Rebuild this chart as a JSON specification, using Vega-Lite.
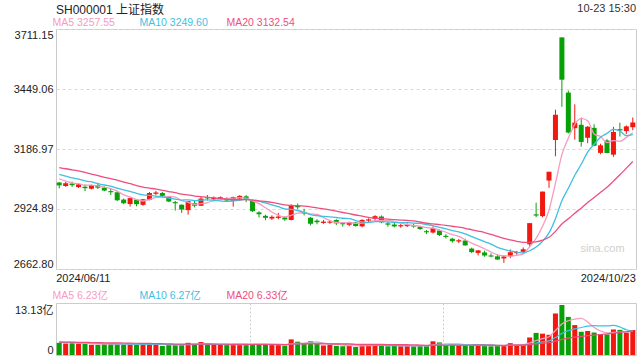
{
  "$schema": "https://vega.github.io/schema/vega-lite/v6.json",
  "background": "white",
  "padding": {"left": 12, "top": 2, "right": 5, "bottom": 0},
  "bounds": "flush",
  "spacing": 34,
  "title": {"text": "10-23 15:30", "anchor": "end", "frame": "group", "fontSize": 11, "fontWeight": "normal", "color": "#333333", "offset": -10},
  "config": {
    "font": "Liberation Sans, Noto Sans CJK SC, sans-serif",
    "view": {"stroke": "#cccccc", "strokeWidth": 1},
    "axis": {"labelFont": "Liberation Sans, Noto Sans CJK SC, sans-serif", "labelFontSize": 11, "labelColor": "#222222", "grid": false, "domain": false, "ticks": false, "title": null},
    "legend": {"labelFont": "Liberation Sans, Noto Sans CJK SC, sans-serif"},
    "title": {"font": "Liberation Sans, Noto Sans CJK SC, sans-serif", "fontWeight": "normal"}
  },
  "datasets": {
    "k": [
      {"d":"2024/06/11","o":3040.7,"h":3041.5,"l":3014.9,"c":3028.05,"v":3.2,"m5":3056.94,"m10":3076.23,"m20":3106.07,"v5":3.36,"v10":3.38,"v20":3.39},
      {"d":"2024/06/12","o":3025.1,"h":3043.0,"l":3021.5,"c":3037.47,"v":3.0,"m5":3046.20,"m10":3069.02,"m20":3100.65,"v5":3.28,"v10":3.34,"v20":3.37},
      {"d":"2024/06/13","o":3036.0,"h":3044.5,"l":3021.2,"c":3028.92,"v":3.1,"m5":3038.90,"m10":3060.81,"m20":3096.10,"v5":3.22,"v10":3.31,"v20":3.36},
      {"d":"2024/06/14","o":3020.5,"h":3036.5,"l":3016.4,"c":3032.63,"v":3.0,"m5":3035.67,"m10":3054.90,"m20":3091.62,"v5":3.14,"v10":3.27,"v20":3.34},
      {"d":"2024/06/17","o":3022.0,"h":3031.9,"l":3003.0,"c":3015.89,"v":3.0,"m5":3028.59,"m10":3047.81,"m20":3084.71,"v5":3.06,"v10":3.23,"v20":3.32},
      {"d":"2024/06/18","o":3013.3,"h":3031.0,"l":3010.5,"c":3030.25,"v":2.7,"m5":3029.03,"m10":3042.99,"m20":3077.66,"v5":2.96,"v10":3.16,"v20":3.28},
      {"d":"2024/06/19","o":3028.7,"h":3039.4,"l":3012.4,"c":3018.05,"v":2.7,"m5":3025.15,"m10":3035.67,"m20":3070.67,"v5":2.90,"v10":3.09,"v20":3.25},
      {"d":"2024/06/20","o":3018.2,"h":3022.7,"l":3002.5,"c":3005.44,"v":2.9,"m5":3020.45,"m10":3029.68,"m20":3063.01,"v5":2.86,"v10":3.04,"v20":3.22},
      {"d":"2024/06/21","o":3003.0,"h":3014.6,"l":2985.6,"c":2998.14,"v":3.0,"m5":3013.55,"m10":3024.61,"m20":3057.10,"v5":2.86,"v10":3.00,"v20":3.20},
      {"d":"2024/06/24","o":2998.0,"h":3001.2,"l":2959.6,"c":2963.10,"v":2.9,"m5":3003.00,"m10":3015.79,"m20":3050.81,"v5":2.84,"v10":2.95,"v20":3.18},
      {"d":"2024/06/25","o":2966.0,"h":2970.5,"l":2946.2,"c":2950.00,"v":2.8,"m5":2986.95,"m10":3007.99,"m20":3042.11,"v5":2.86,"v10":2.91,"v20":3.15},
      {"d":"2024/06/26","o":2946.5,"h":2974.0,"l":2935.5,"c":2972.53,"v":2.8,"m5":2977.84,"m10":3001.50,"m20":3035.26,"v5":2.88,"v10":2.89,"v20":3.12},
      {"d":"2024/06/27","o":2966.0,"h":2968.0,"l":2936.5,"c":2945.85,"v":2.7,"m5":2965.92,"m10":2993.19,"m20":3027.00,"v5":2.84,"v10":2.85,"v20":3.08},
      {"d":"2024/06/28","o":2943.0,"h":2969.0,"l":2939.0,"c":2967.40,"v":2.9,"m5":2959.78,"m10":2986.66,"m20":3020.78,"v5":2.82,"v10":2.84,"v20":3.06},
      {"d":"2024/07/01","o":2965.0,"h":2999.0,"l":2963.0,"c":2994.73,"v":2.9,"m5":2966.10,"m10":2984.55,"m20":3016.18,"v5":2.82,"v10":2.83,"v20":3.03},
      {"d":"2024/07/02","o":2991.4,"h":3004.0,"l":2985.0,"c":2997.01,"v":2.9,"m5":2975.50,"m10":2981.22,"m20":3012.11,"v5":2.84,"v10":2.85,"v20":3.01},
      {"d":"2024/07/03","o":2995.0,"h":2999.5,"l":2975.0,"c":2982.38,"v":2.4,"m5":2977.47,"m10":2977.66,"m20":3006.67,"v5":2.76,"v10":2.82,"v20":2.96},
      {"d":"2024/07/04","o":2978.0,"h":2980.0,"l":2955.5,"c":2957.57,"v":2.6,"m5":2979.82,"m10":2972.87,"m20":3001.27,"v5":2.74,"v10":2.79,"v20":2.92},
      {"d":"2024/07/05","o":2955.0,"h":2960.0,"l":2918.0,"c":2949.93,"v":2.6,"m5":2976.32,"m10":2968.05,"m20":2996.33,"v5":2.68,"v10":2.75,"v20":2.88},
      {"d":"2024/07/08","o":2943.0,"h":2945.0,"l":2908.0,"c":2922.45,"v":2.8,"m5":2961.87,"m10":2963.98,"m20":2989.89,"v5":2.66,"v10":2.74,"v20":2.85},
      {"d":"2024/07/09","o":2920.0,"h":2960.5,"l":2900.0,"c":2959.37,"v":3.2,"m5":2954.34,"m10":2964.92,"m20":2986.46,"v5":2.72,"v10":2.78,"v20":2.85},
      {"d":"2024/07/10","o":2951.0,"h":2960.0,"l":2932.0,"c":2939.36,"v":2.7,"m5":2945.74,"m10":2961.60,"m20":2981.55,"v5":2.78,"v10":2.77,"v20":2.83},
      {"d":"2024/07/11","o":2939.0,"h":2978.0,"l":2938.0,"c":2970.39,"v":3.4,"m5":2948.30,"m10":2964.06,"m20":2978.62,"v5":2.94,"v10":2.84,"v20":2.85},
      {"d":"2024/07/12","o":2976.0,"h":2986.0,"l":2962.0,"c":2971.30,"v":2.8,"m5":2952.57,"m10":2964.45,"m20":2975.56,"v5":2.98,"v10":2.83,"v20":2.84},
      {"d":"2024/07/15","o":2967.0,"h":2980.0,"l":2958.0,"c":2974.01,"v":2.7,"m5":2962.89,"m10":2962.38,"m20":2973.46,"v5":2.96,"v10":2.81,"v20":2.82},
      {"d":"2024/07/16","o":2971.0,"h":2980.0,"l":2964.0,"c":2976.30,"v":2.7,"m5":2966.27,"m10":2960.31,"m20":2970.77,"v5":2.86,"v10":2.79,"v20":2.82},
      {"d":"2024/07/17","o":2972.0,"h":2976.0,"l":2957.0,"c":2962.19,"v":2.6,"m5":2970.84,"m10":2958.29,"m20":2967.97,"v5":2.84,"v10":2.81,"v20":2.82},
      {"d":"2024/07/18","o":2960.0,"h":2979.0,"l":2935.0,"c":2977.13,"v":2.8,"m5":2972.19,"m10":2960.24,"m20":2966.56,"v5":2.72,"v10":2.83,"v20":2.81},
      {"d":"2024/07/19","o":2970.0,"h":2985.0,"l":2960.0,"c":2982.31,"v":2.8,"m5":2974.39,"m10":2963.48,"m20":2965.77,"v5":2.72,"v10":2.85,"v20":2.80},
      {"d":"2024/07/22","o":2980.0,"h":2986.0,"l":2955.0,"c":2964.22,"v":2.7,"m5":2972.43,"m10":2967.66,"m20":2965.82,"v5":2.72,"v10":2.84,"v20":2.79},
      {"d":"2024/07/23","o":2962.0,"h":2966.0,"l":2912.0,"c":2915.37,"v":2.9,"m5":2960.24,"m10":2963.26,"m20":2964.09,"v5":2.76,"v10":2.81,"v20":2.80},
      {"d":"2024/07/24","o":2910.0,"h":2915.0,"l":2888.0,"c":2901.95,"v":2.8,"m5":2948.20,"m10":2959.52,"m20":2960.56,"v5":2.80,"v10":2.82,"v20":2.80},
      {"d":"2024/07/25","o":2895.0,"h":2900.0,"l":2876.0,"c":2886.43,"v":2.9,"m5":2930.06,"m10":2951.12,"m20":2957.59,"v5":2.82,"v10":2.77,"v20":2.81},
      {"d":"2024/07/26","o":2883.0,"h":2897.0,"l":2877.0,"c":2890.90,"v":2.6,"m5":2911.77,"m10":2943.08,"m20":2953.76,"v5":2.78,"v10":2.75,"v20":2.79},
      {"d":"2024/07/29","o":2886.0,"h":2908.0,"l":2880.0,"c":2891.85,"v":2.6,"m5":2897.30,"m10":2934.86,"m20":2948.62,"v5":2.76,"v10":2.74,"v20":2.78},
      {"d":"2024/07/30","o":2888.0,"h":2892.0,"l":2873.0,"c":2879.30,"v":2.5,"m5":2890.09,"m10":2925.16,"m20":2942.74,"v5":2.68,"v10":2.72,"v20":2.76},
      {"d":"2024/07/31","o":2877.0,"h":2945.0,"l":2875.0,"c":2938.75,"v":4.1,"m5":2897.45,"m10":2922.82,"m20":2940.55,"v5":2.94,"v10":2.87,"v20":2.84},
      {"d":"2024/08/01","o":2941.0,"h":2949.0,"l":2925.0,"c":2932.39,"v":3.5,"m5":2906.64,"m10":2918.35,"m20":2939.29,"v5":3.06,"v10":2.94,"v20":2.89},
      {"d":"2024/08/02","o":2911.0,"h":2926.0,"l":2897.0,"c":2905.34,"v":3.0,"m5":2909.53,"m10":2910.65,"m20":2937.07,"v5":3.14,"v10":2.96,"v20":2.91},
      {"d":"2024/08/05","o":2887.0,"h":2890.0,"l":2853.0,"c":2860.70,"v":3.6,"m5":2903.30,"m10":2900.30,"m20":2933.98,"v5":3.34,"v10":3.05,"v20":2.95},
      {"d":"2024/08/06","o":2874.0,"h":2880.0,"l":2858.0,"c":2867.28,"v":2.9,"m5":2900.89,"m10":2895.49,"m20":2929.37,"v5":3.42,"v10":3.05,"v20":2.93},
      {"d":"2024/08/07","o":2864.0,"h":2877.0,"l":2860.0,"c":2869.83,"v":2.5,"m5":2887.11,"m10":2892.28,"m20":2925.90,"v5":3.10,"v10":3.02,"v20":2.92},
      {"d":"2024/08/08","o":2865.0,"h":2878.0,"l":2860.0,"c":2869.90,"v":2.7,"m5":2874.61,"m10":2890.62,"m20":2920.87,"v5":2.94,"v10":3.00,"v20":2.89},
      {"d":"2024/08/09","o":2877.0,"h":2880.0,"l":2855.0,"c":2862.19,"v":2.4,"m5":2865.98,"m10":2887.75,"m20":2915.42,"v5":2.82,"v10":2.98,"v20":2.87},
      {"d":"2024/08/12","o":2863.0,"h":2868.0,"l":2848.0,"c":2858.20,"v":2.3,"m5":2865.48,"m10":2884.39,"m20":2909.63,"v5":2.56,"v10":2.95,"v20":2.85},
      {"d":"2024/08/13","o":2856.0,"h":2870.0,"l":2850.0,"c":2867.95,"v":2.5,"m5":2865.61,"m10":2883.25,"m20":2904.21,"v5":2.48,"v10":2.95,"v20":2.84},
      {"d":"2024/08/14","o":2866.0,"h":2868.0,"l":2848.0,"c":2850.65,"v":2.1,"m5":2861.78,"m10":2874.44,"m20":2898.63,"v5":2.40,"v10":2.75,"v20":2.81},
      {"d":"2024/08/15","o":2849.0,"h":2880.0,"l":2845.0,"c":2877.36,"v":2.7,"m5":2863.27,"m10":2868.94,"m20":2893.64,"v5":2.40,"v10":2.67,"v20":2.81},
      {"d":"2024/08/16","o":2874.0,"h":2884.0,"l":2866.0,"c":2879.43,"v":2.6,"m5":2866.72,"m10":2866.35,"m20":2888.50,"v5":2.44,"v10":2.63,"v20":2.80},
      {"d":"2024/08/19","o":2882.0,"h":2898.0,"l":2870.0,"c":2893.67,"v":2.6,"m5":2873.81,"m10":2869.65,"m20":2884.97,"v5":2.50,"v10":2.53,"v20":2.79},
      {"d":"2024/08/20","o":2892.0,"h":2897.0,"l":2863.0,"c":2866.66,"v":2.5,"m5":2873.55,"m10":2869.58,"m20":2882.54,"v5":2.50,"v10":2.49,"v20":2.77},
      {"d":"2024/08/21","o":2862.0,"h":2868.0,"l":2848.0,"c":2856.58,"v":2.3,"m5":2874.74,"m10":2868.26,"m20":2880.27,"v5":2.54,"v10":2.47,"v20":2.75},
      {"d":"2024/08/22","o":2857.0,"h":2865.0,"l":2845.0,"c":2848.77,"v":2.5,"m5":2869.02,"m10":2866.15,"m20":2878.38,"v5":2.50,"v10":2.45,"v20":2.73},
      {"d":"2024/08/23","o":2849.0,"h":2860.0,"l":2843.0,"c":2854.37,"v":2.3,"m5":2864.01,"m10":2865.36,"m20":2876.56,"v5":2.44,"v10":2.44,"v20":2.71},
      {"d":"2024/08/26","o":2850.0,"h":2862.0,"l":2846.0,"c":2855.52,"v":2.4,"m5":2856.38,"m10":2865.10,"m20":2874.74,"v5":2.40,"v10":2.45,"v20":2.70},
      {"d":"2024/08/27","o":2853.0,"h":2860.0,"l":2843.0,"c":2848.32,"v":2.3,"m5":2852.71,"m10":2863.13,"m20":2873.19,"v5":2.36,"v10":2.43,"v20":2.69},
      {"d":"2024/08/28","o":2847.0,"h":2852.0,"l":2833.0,"c":2837.43,"v":2.5,"m5":2848.88,"m10":2861.81,"m20":2868.13,"v5":2.40,"v10":2.47,"v20":2.61},
      {"d":"2024/08/29","o":2828.0,"h":2833.0,"l":2815.0,"c":2823.11,"v":2.5,"m5":2843.75,"m10":2856.39,"m20":2862.66,"v5":2.40,"v10":2.45,"v20":2.56},
      {"d":"2024/08/30","o":2822.0,"h":2849.0,"l":2818.0,"c":2842.21,"v":3.6,"m5":2841.32,"m10":2852.66,"m20":2859.51,"v5":2.66,"v10":2.55,"v20":2.59},
      {"d":"2024/09/02","o":2831.0,"h":2835.0,"l":2807.0,"c":2811.04,"v":3.3,"m5":2832.42,"m10":2844.40,"m20":2857.02,"v5":2.84,"v10":2.62,"v20":2.58},
      {"d":"2024/09/03","o":2808.0,"h":2815.0,"l":2796.0,"c":2802.98,"v":2.6,"m5":2823.35,"m10":2838.03,"m20":2853.81,"v5":2.90,"v10":2.63,"v20":2.56},
      {"d":"2024/09/04","o":2795.0,"h":2799.0,"l":2778.0,"c":2784.28,"v":2.6,"m5":2812.72,"m10":2830.80,"m20":2849.53,"v5":2.92,"v10":2.66,"v20":2.57},
      {"d":"2024/09/05","o":2783.0,"h":2794.0,"l":2776.0,"c":2788.31,"v":2.4,"m5":2805.76,"m10":2824.76,"m20":2845.45,"v5":2.90,"v10":2.65,"v20":2.55},
      {"d":"2024/09/06","o":2787.0,"h":2795.0,"l":2765.0,"c":2765.81,"v":2.5,"m5":2790.48,"m10":2815.90,"m20":2840.63,"v5":2.68,"v10":2.67,"v20":2.56},
      {"d":"2024/09/09","o":2752.0,"h":2756.0,"l":2732.0,"c":2736.49,"v":2.6,"m5":2775.57,"m10":2804.00,"m20":2834.55,"v5":2.54,"v10":2.69,"v20":2.57},
      {"d":"2024/09/10","o":2733.0,"h":2745.0,"l":2722.0,"c":2744.19,"v":2.5,"m5":2763.82,"m10":2793.58,"m20":2828.36,"v5":2.52,"v10":2.71,"v20":2.57},
      {"d":"2024/09/11","o":2735.0,"h":2743.0,"l":2716.0,"c":2721.80,"v":2.4,"m5":2751.32,"m10":2782.02,"m20":2821.92,"v5":2.48,"v10":2.70,"v20":2.59},
      {"d":"2024/09/12","o":2722.0,"h":2731.0,"l":2714.0,"c":2717.12,"v":2.3,"m5":2737.08,"m10":2771.42,"m20":2813.90,"v5":2.46,"v10":2.68,"v20":2.57},
      {"d":"2024/09/13","o":2718.0,"h":2726.0,"l":2703.0,"c":2704.09,"v":2.4,"m5":2724.74,"m10":2757.61,"m20":2805.14,"v5":2.44,"v10":2.56,"v20":2.56},
      {"d":"2024/09/18","o":2709.0,"h":2720.0,"l":2689.7,"c":2717.28,"v":2.6,"m5":2720.90,"m10":2748.23,"m20":2796.32,"v5":2.44,"v10":2.49,"v20":2.56},
      {"d":"2024/09/19","o":2718.0,"h":2748.0,"l":2710.0,"c":2736.02,"v":3.1,"m5":2719.26,"m10":2741.54,"m20":2789.79,"v5":2.56,"v10":2.54,"v20":2.59},
      {"d":"2024/09/20","o":2732.0,"h":2742.0,"l":2725.0,"c":2736.81,"v":2.7,"m5":2722.26,"m10":2736.79,"m20":2783.80,"v5":2.62,"v10":2.55,"v20":2.61},
      {"d":"2024/09/23","o":2738.0,"h":2757.0,"l":2731.0,"c":2748.92,"v":2.8,"m5":2728.62,"m10":2732.85,"m20":2778.80,"v5":2.72,"v10":2.59,"v20":2.62},
      {"d":"2024/09/24","o":2770.75,"h":2863.13,"l":2759.14,"c":2863.13,"v":4.6,"m5":2760.43,"m10":2742.58,"m20":2779.24,"v5":3.16,"v10":2.80,"v20":2.74},
      {"d":"2024/09/25","o":2901.42,"h":2952.45,"l":2889.05,"c":2896.31,"v":5.8,"m5":2796.24,"m10":2758.57,"m20":2781.28,"v5":3.80,"v10":3.12,"v20":2.91},
      {"d":"2024/09/26","o":2893.81,"h":3000.95,"l":2889.01,"c":3000.95,"v":5.6,"m5":2849.22,"m10":2784.24,"m20":2788.91,"v5":4.30,"v10":3.43,"v20":3.07},
      {"d":"2024/09/27","o":3049.06,"h":3087.53,"l":3017.42,"c":3087.53,"v":5.3,"m5":2919.37,"m10":2820.82,"m20":2801.42,"v5":4.82,"v10":3.72,"v20":3.21},
      {"d":"2024/09/30","o":3226.26,"h":3358.59,"l":3155.16,"c":3336.50,"v":10.9,"m5":3036.88,"m10":2882.75,"m20":2827.09,"v5":6.44,"v10":4.58,"v20":3.63},
      {"d":"2024/10/08","o":3674.40,"h":3674.40,"l":3371.11,"c":3489.78,"v":13.13,"m5":3162.21,"m10":2961.32,"m20":2859.47,"v5":8.15,"v10":5.65,"v20":4.11},
      {"d":"2024/10/09","o":3433.32,"h":3441.94,"l":3254.94,"c":3258.86,"v":10.0,"m5":3234.72,"m10":3015.48,"m20":2881.86,"v5":8.99,"v10":6.39,"v20":4.44},
      {"d":"2024/10/10","o":3277.84,"h":3382.00,"l":3228.00,"c":3301.93,"v":7.85,"m5":3294.92,"m10":3072.07,"m20":2906.81,"v5":9.44,"v10":6.87,"v20":4.70},
      {"d":"2024/10/11","o":3292.55,"h":3324.06,"l":3197.31,"c":3217.74,"v":6.1,"m5":3320.96,"m10":3120.17,"m20":2928.48,"v5":9.60,"v10":7.21,"v20":4.88},
      {"d":"2024/10/14","o":3236.00,"h":3287.27,"l":3212.27,"c":3284.32,"v":6.3,"m5":3310.53,"m10":3173.71,"m20":2953.28,"v5":8.68,"v10":7.56,"v20":5.07},
      {"d":"2024/10/15","o":3279.29,"h":3295.20,"l":3199.54,"c":3201.29,"v":5.9,"m5":3252.83,"m10":3207.52,"m20":2975.05,"v5":7.23,"v10":7.69,"v20":5.24},
      {"d":"2024/10/16","o":3170.00,"h":3210.00,"l":3164.00,"c":3202.95,"v":5.4,"m5":3241.65,"m10":3238.19,"m20":2998.38,"v5":6.31,"v10":7.65,"v20":5.38},
      {"d":"2024/10/17","o":3224.13,"h":3230.00,"l":3168.58,"c":3169.38,"v":5.4,"m5":3215.14,"m10":3255.03,"m20":3019.64,"v5":5.82,"v10":7.63,"v20":5.53},
      {"d":"2024/10/18","o":3162.29,"h":3283.71,"l":3152.82,"c":3261.56,"v":6.7,"m5":3223.90,"m10":3272.43,"m20":3046.62,"v5":5.94,"v10":7.77,"v20":5.74},
      {"d":"2024/10/21","o":3273.70,"h":3301.73,"l":3241.49,"c":3268.11,"v":6.6,"m5":3220.66,"m10":3265.59,"m20":3074.17,"v5":6.00,"v10":7.34,"v20":5.96},
      {"d":"2024/10/22","o":3265.14,"h":3290.00,"l":3252.00,"c":3285.87,"v":5.9,"m5":3237.57,"m10":3245.20,"m20":3103.26,"v5":6.00,"v10":6.62,"v20":6.13},
      {"d":"2024/10/23","o":3282.04,"h":3324.76,"l":3268.98,"c":3302.80,"v":6.55,"m5":3257.54,"m10":3249.60,"m20":3132.54,"v5":6.23,"v10":6.27,"v20":6.33}
    ],
    "wm": [{"d": "2024/10/16", "p": 2750, "t": "sina.com"}]
  },
  "resolve": {"scale": {"color": "independent", "x": "independent", "y": "independent"}, "legend": {"color": "independent"}},
  "vconcat": [
    {
      "width": 580,
      "height": 240,
      "title": {"text": "SH000001 上证指数", "anchor": "start", "frame": "group", "fontSize": 12, "fontWeight": "normal", "color": "#222222", "offset": 1},
      "data": {"name": "k"},
      "encoding": {
        "x": {"field": "d", "type": "ordinal", "title": null, "scale": {"paddingInner": 0.22, "paddingOuter": 0.11},
          "axis": {"values": ["2024/06/11", "2024/10/23"], "labelAngle": 0, "labelFlush": false,
            "labelAlign": {"condition": {"test": "datum.value == '2024/06/11'", "value": "left"}, "value": "right"},
            "labelOffset": {"condition": {"test": "datum.value == '2024/06/11'", "value": -3}, "value": 3},
            "labelPadding": 3, "labelColor": "#222222", "labelFontSize": 11}}
      },
      "layer": [
        {
          "mark": {"type": "rule", "strokeWidth": 1},
          "encoding": {
            "y": {"field": "l", "type": "quantitative", "title": null, "scale": {"domain": [2662.8, 3711.15], "nice": false, "zero": false},
              "axis": {"values": [2662.8, 2924.89, 3186.97, 3449.06, 3711.15], "format": ".2f", "grid": true, "gridColor": "#d9d9d9", "gridDash": [3, 3], "gridWidth": 1, "labelFlush": true, "labelPadding": 3}},
            "y2": {"field": "h"},
            "color": {"condition": {"test": "datum.c >= datum.o", "value": "#f2180f"}, "value": "#07a007"}
          }
        },
        {
          "mark": {"type": "bar"},
          "encoding": {
            "y": {"field": "o", "type": "quantitative", "title": null},
            "y2": {"field": "c"},
            "color": {"condition": {"test": "datum.c >= datum.o", "value": "#f2180f"}, "value": "#07a007"}
          }
        },
        {
          "transform": [{"fold": ["m5", "m10", "m20"], "as": ["ma", "val"]}],
          "mark": {"type": "line", "strokeWidth": 1.3, "interpolate": "monotone"},
          "encoding": {
            "y": {"field": "val", "type": "quantitative", "title": null},
            "color": {"field": "ma", "type": "nominal",
              "scale": {"domain": ["m5", "m10", "m20"], "range": ["#f59cbf", "#3fbfe2", "#ec4f7f"]},
              "legend": {"orient": "none", "legendX": -14, "legendY": -11, "direction": "horizontal", "columns": 3, "title": null, "symbolSize": 0, "symbolStrokeWidth": 0, "symbolOpacity": 0, "labelOffset": 0, "labelFontSize": 10.5, "columnPadding": 8, "gridAlign": "all", "padding": 0,
                "labelExpr": "datum.value == 'm5' ? 'MA5 3257.55' : datum.value == 'm10' ? 'MA10 3249.60' : 'MA20 3132.54'",
                "encode": {"labels": {"update": {"fill": [{"test": "datum.value == 'm5'", "value": "#f59cbf"}, {"test": "datum.value == 'm10'", "value": "#3fbfe2"}, {"value": "#ec4f7f"}]}}}}
            }
          }
        },
        {
          "data": {"name": "wm"},
          "mark": {"type": "text", "fontSize": 11, "color": "#cfcfcf", "dx": 2},
          "encoding": {
            "y": {"field": "p", "type": "quantitative", "title": null},
            "text": {"field": "t"}
          }
        }
      ]
    },
    {
      "width": 580,
      "height": 52,
      "data": {"name": "k"},
      "encoding": {
        "x": {"field": "d", "type": "ordinal", "title": null, "scale": {"paddingInner": 0.22, "paddingOuter": 0.11},
          "axis": {"values": ["2024/07/23", "2024/09/03"], "bandPosition": 0, "grid": true, "gridColor": "#cccccc", "gridDash": [2, 2], "labels": false}}
      },
      "layer": [
        {
          "mark": {"type": "bar"},
          "encoding": {
            "y": {"field": "v", "type": "quantitative", "title": null, "scale": {"domain": [0, 13.65], "nice": false},
              "axis": {"values": [0, 13.13], "labelExpr": "datum.value == 0 ? '0' : '13.13亿'", "labelFlush": 3, "labelPadding": 3}},
            "color": {"condition": {"test": "datum.c >= datum.o", "value": "#f2180f"}, "value": "#07a007"}
          }
        },
        {
          "transform": [{"fold": ["v5", "v10", "v20"], "as": ["vm", "vv"]}],
          "mark": {"type": "line", "strokeWidth": 1.2, "interpolate": "monotone"},
          "encoding": {
            "y": {"field": "vv", "type": "quantitative", "title": null},
            "color": {"field": "vm", "type": "nominal",
              "scale": {"domain": ["v5", "v10", "v20"], "range": ["#f59cbf", "#3fbfe2", "#ec4f7f"]},
              "legend": {"orient": "none", "legendX": -14, "legendY": -12, "direction": "horizontal", "columns": 3, "title": null, "symbolSize": 0, "symbolStrokeWidth": 0, "symbolOpacity": 0, "labelOffset": 0, "labelFontSize": 10.5, "columnPadding": 15, "gridAlign": "all", "padding": 0,
                "labelExpr": "datum.value == 'v5' ? 'MA5 6.23亿' : datum.value == 'v10' ? 'MA10 6.27亿' : 'MA20 6.33亿'",
                "encode": {"labels": {"update": {"fill": [{"test": "datum.value == 'v5'", "value": "#f59cbf"}, {"test": "datum.value == 'v10'", "value": "#3fbfe2"}, {"value": "#ec4f7f"}]}}}}
            }
          }
        }
      ]
    }
  ]
}
